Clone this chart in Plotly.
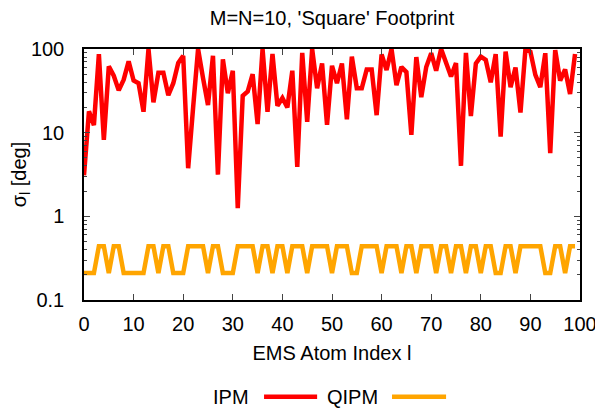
import plotly.graph_objects as go

index = list(range(100))

ipm = [3.1, 18, 12.3, 87, 8.2, 62, 48, 32, 43, 71,
       42, 39, 17.8, 100, 23, 52, 52, 28, 39, 68,
       83, 3.76, 20, 100, 45, 21.4, 83, 3.15, 75, 29.6,
       55, 1.25, 27.5, 31, 50, 12.7, 100, 17.8, 87, 21,
       26, 20, 55, 3.9, 90, 13.5, 100, 34, 67, 12.4,
       63, 39, 67, 14.4, 81, 34, 34, 57, 57, 16.2,
       86, 56, 100, 37, 61, 53, 9.4, 80, 26.5, 61,
       89, 55, 100, 70, 47, 68, 4.0, 90, 15.8, 67,
       81, 74, 40, 87, 9.0, 93, 35, 60, 17.4, 100,
       93, 49, 35, 89, 5.7, 97, 42, 57, 29, 87]

L, H = 0.21, 0.44
qipm_pattern = ("LLLHHLHHLL"
                "LLLHHLHHLL"
                "LHHHHLHHLL"
                "LHHHHLHHLH"
                "HLHHHLHHHH"
                "LHHHLLHHHH"
                "LHHHLHHLHH"
                "HLHHLHHLHH"
                "LHHLLHHLHH"
                "HHHLLHHLHH")
qipm = [H if c == "H" else L for c in qipm_pattern]

series_names = ["IPM", "QIPM"]
series_colors = ["#ff0000", "#ffa500"]

title_text = "M=N=10, 'Square' Footprint"
x_title = "EMS Atom Index l"
y_title = "σ<sub>l</sub> [deg]"
x_ticks = list(range(0, 101, 10))
y_ticks = [0.1, 1, 10, 100]
y_ticklabels = ["0.1", "1", "10", "100"]

font_family = "Liberation Sans, Arial, sans-serif"
fs = 20

fig = go.Figure()
for name, ys, col in zip(series_names, [ipm, qipm], series_colors):
    fig.add_trace(go.Scatter(x=index, y=ys, mode="lines", name=name,
                             line=dict(color=col, width=4.5), showlegend=False))

# manual gnuplot-style legend (text left of sample)
leg_y = -0.385
legend_items = [(series_names[0], series_colors[0], 0.336, 0.363, 0.470),
                (series_names[1], series_colors[1], 0.596, 0.621, 0.730)]
for name, col, tx, x0, x1 in legend_items:
    fig.add_annotation(x=tx, y=leg_y, xref="paper", yref="paper", text=name,
                       showarrow=False, xanchor="right", yanchor="middle",
                       font=dict(size=fs, color="black", family=font_family))
    fig.add_shape(type="line", xref="paper", yref="paper", x0=x0, x1=x1,
                  y0=leg_y, y1=leg_y, line=dict(color=col, width=4.5))

# page body has an 8px margin, so margins are offset to land the plot where the reference has it
fig.update_layout(
    width=603, height=412,
    margin=dict(l=76, r=31, t=41, b=120, autoexpand=False),
    paper_bgcolor="white", plot_bgcolor="white",
    font=dict(family=font_family, size=fs, color="black"),
    title=dict(text=title_text, x=0.5, xref="paper", xanchor="center",
               y=1 - 10 / 412, yanchor="middle", automargin=False,
               font=dict(size=fs, family=font_family)),
)
fig.update_xaxes(range=[0, 100], tickvals=x_ticks, ticks="inside", ticklen=6,
                 showline=True, linecolor="black", linewidth=1.5, mirror="allticks",
                 showgrid=False, zeroline=False, tickfont=dict(size=fs),
                 ticklabelstandoff=5, automargin=False,
                 title=dict(text=x_title, font=dict(size=fs), standoff=12))
fig.update_yaxes(type="log", range=[-1, 2], tickvals=y_ticks, ticktext=y_ticklabels,
                 ticks="inside", ticklen=6, showline=True, linecolor="black",
                 linewidth=1.5, mirror="allticks", showgrid=False, zeroline=False,
                 tickfont=dict(size=fs), ticklabelstandoff=14, automargin=False,
                 minor=dict(ticks="inside", ticklen=3, dtick="D1", showgrid=False),
                 title=dict(text=y_title, font=dict(size=fs), standoff=2))

fig.write_html("out.html")
